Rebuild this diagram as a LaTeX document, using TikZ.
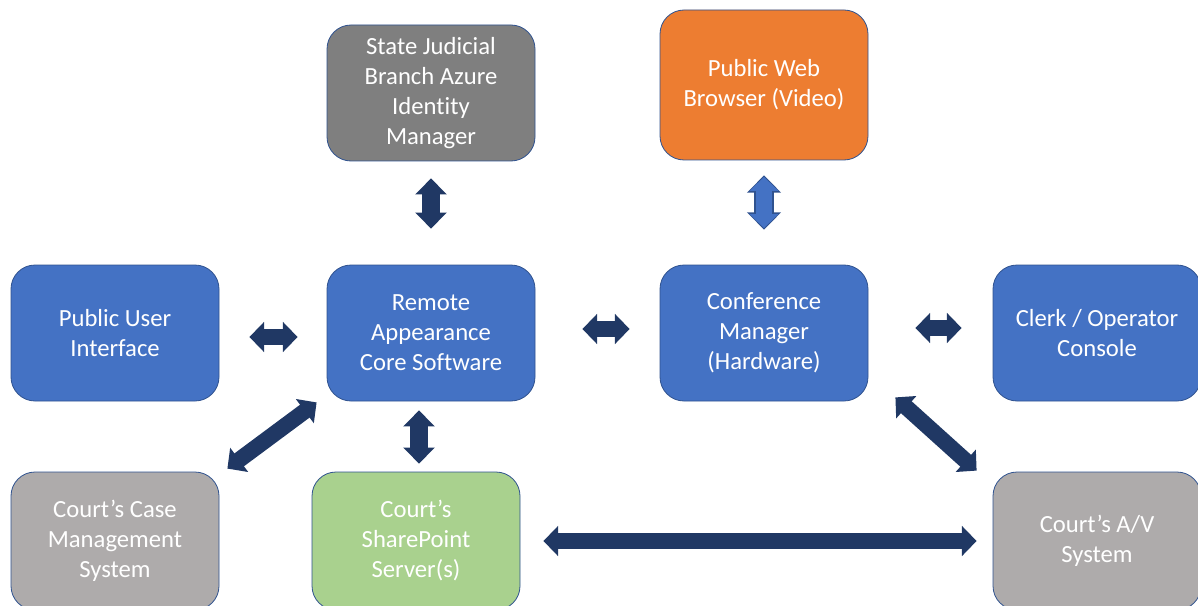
\documentclass[tikz,border=0pt]{standalone}
\usepackage{fontspec}
\setmainfont{Carlito}[Ligatures={NoCommon}]
\usetikzlibrary{arrows.meta}
\definecolor{boxblue}{HTML}{4472C4}
\definecolor{boxedge}{HTML}{2F528F}
\definecolor{darkgray}{HTML}{7F7F7F}
\definecolor{lightgray}{HTML}{AEABAB}
\definecolor{webor}{HTML}{ED7D31}
\definecolor{spgreen}{HTML}{A9D18E}
\definecolor{navy}{HTML}{203864}
\begin{document}
\begin{tikzpicture}[x=0.75pt,y=-0.75pt,
    box/.style={draw=boxedge, line width=0.6pt, rounded corners=18pt, minimum width=156pt,
      minimum height=102pt, align=center, text=white, font=\fontsize{18.5}{22.5}\selectfont},
    link/.style={navy, line width=12pt, {Triangle[length=11pt,width=22pt]}-{Triangle[length=11pt,width=22pt]}},
    vlink/.style={navy, line width=13pt, {Triangle[length=12pt,width=23pt]}-{Triangle[length=12pt,width=23pt]}}]
    \useasboundingbox (0,0) rectangle (1198,606);

    \node[box, fill=darkgray](judicial) at (431,93) {State Judicial\\Branch Azure\\Identity\\Manager};
    \node[box, fill=webor, minimum height=112.5pt](browser) at (764,85) {Public Web\\Browser (Video)};
    \node[box, fill=boxblue](publicui) at (115,333) {Public User\\Interface};
    \node[box, fill=boxblue](core) at (431,333) {Remote\\Appearance\\Core Software};
    \node[box, fill=boxblue](conf) at (764,333) {Conference\\Manager\\(Hardware)};
    \node[box, fill=boxblue](clerk) at (1097,333) {Clerk / Operator\\Console};
    \node[box, fill=lightgray, minimum height=103.5pt](casemgmt) at (115,541) {Court’s Case\\Management\\System};
    \node[box, fill=spgreen, minimum height=103.5pt](sharepoint) at (416,541) {Court’s\\SharePoint\\Server(s)};
    \node[box, fill=lightgray, minimum height=103.5pt](av) at (1097,541) {Court’s A/V\\System};

    \draw[vlink] ([shift={(0,17)}]judicial.south) -- ([shift={(0,-36)}]core.north);
    \draw[boxedge, line width=14.5pt, {Triangle[length=13pt,width=25pt]}-{Triangle[length=13pt,width=25pt]}]
      ([shift={(0,15)}]browser.south) -- ([shift={(0,-35)}]conf.north);
    \draw[boxblue, line width=11.5pt, {Triangle[length=10.5pt,width=21pt]}-{Triangle[length=10.5pt,width=21pt]}]
      ([shift={(0,16.5)}]browser.south) -- ([shift={(0,-36.5)}]conf.north);
    \draw[link] ([shift={(30,4)}]publicui.east) -- ([shift={(-29,4)}]core.west);
    \draw[link] ([shift={(47,-4)}]core.east) -- ([shift={(-30,-4)}]conf.west);
    \draw[link] ([shift={(47,-5)}]conf.east) -- ([shift={(-31,-5)}]clerk.west);
    \draw[link] ([shift={(-10,1)}]core.south west) -- ([shift={(8,-3)}]casemgmt.north east);
    \draw[vlink] ([shift={(-12,9)}]core.south) -- ([shift={(3,-8)}]sharepoint.north);
    \draw[link] ([shift={(27,-4)}]conf.south east) -- ([shift={(-16,-1)}]av.north west);
    \draw[link] ([shift={(23,0)}]sharepoint.east) -- ([shift={(-16,0)}]av.west);
\end{tikzpicture}
\end{document}
